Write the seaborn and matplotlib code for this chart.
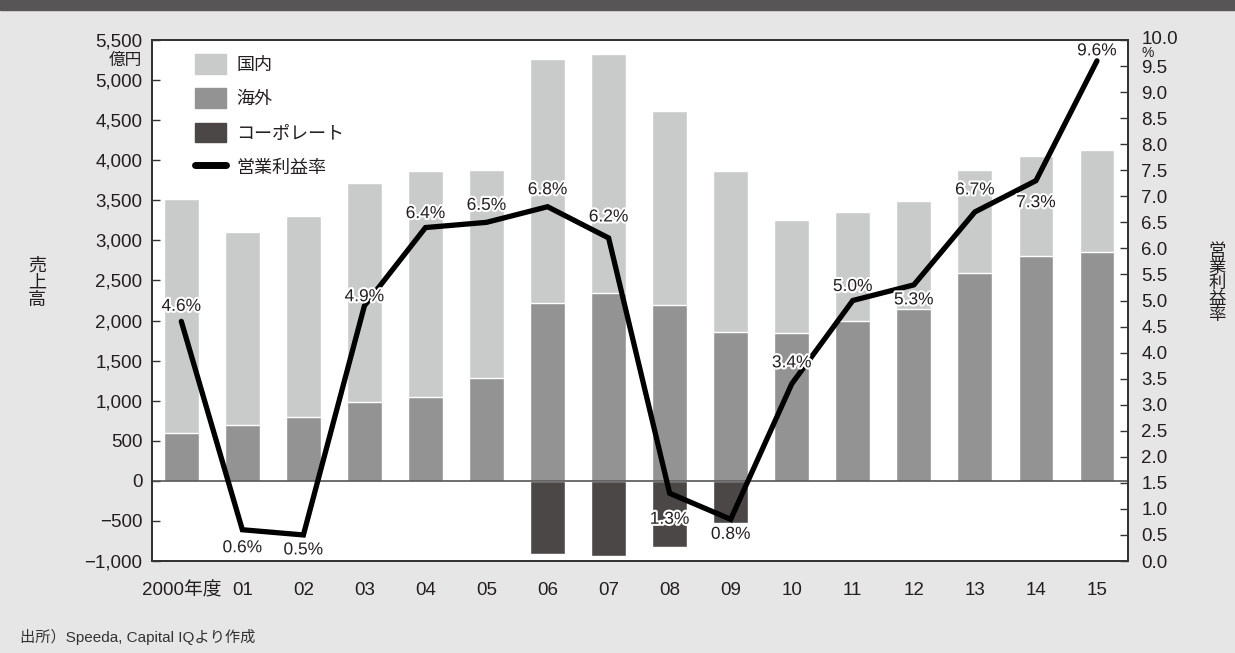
import numpy as np
import matplotlib
matplotlib.use("Agg")
import matplotlib.pyplot as plt
import matplotlib.patheffects as pe
from matplotlib.patches import Patch, Rectangle
from matplotlib.lines import Line2D
from matplotlib.ticker import FuncFormatter, FixedLocator
from matplotlib.transforms import ScaledTranslation
import seaborn as sns

# data
years = ["2000年度", "01", "02", "03", "04", "05", "06", "07",
         "08", "09", "10", "11", "12", "13", "14", "15"]
domestic = [2920, 2400, 2500, 2740, 2830, 2600, 3040, 2980,
            2410, 2000, 1420, 1360, 1350, 1290, 1250, 1270]
overseas = [600, 700, 800, 980, 1040, 1280, 2220, 2340,
            2200, 1860, 1840, 1990, 2140, 2590, 2800, 2860]
corporate = [0, 0, 0, 0, 0, 0, -910, -940,
             -830, -530, 0, 0, 0, 0, 0, 0]
margin = [4.6, 0.6, 0.5, 4.9, 6.4, 6.5, 6.8, 6.2,
          1.3, 0.8, 3.4, 5.0, 5.3, 6.7, 7.3, 9.6]

# label offsets (pixels) for the margin labels
label_dy = [15, -18, -15, 9, 14, 17, 17, 21, -26, -15, 21, 14, -15, 22, -22, 10]

C_DOM = "#c9caca"
C_OVS = "#939393"
C_CORP = "#4b4747"
TXT = "#231f20"

sns.set_theme(style="white")
plt.rcParams["font.family"] = ["Liberation Sans", "Noto Sans CJK JP"]
plt.rcParams["axes.unicode_minus"] = True

fig = plt.figure(figsize=(12.35, 6.53), dpi=100)
fig.patch.set_facecolor("#e6e6e6")
fig.patches.append(Rectangle((0, 1 - 10 / 653), 1, 10 / 653, transform=fig.transFigure,
                             color="#575555", zorder=0))

ax = fig.add_axes([152 / 1235, 92 / 653, 975.5 / 1235, 521 / 653])
ax.set_facecolor("white")

total = [d + o for d, o in zip(domestic, overseas)]
sns.barplot(x=years, y=total, color=C_DOM, saturation=1, width=0.57, errorbar=None, ax=ax)
sns.barplot(x=years, y=overseas, color=C_OVS, saturation=1, width=0.57, errorbar=None, ax=ax)
sns.barplot(x=years, y=corporate, color=C_CORP, saturation=1, width=0.57, errorbar=None, ax=ax)
ax.axhline(0, color="#555555", lw=1.2, zorder=3)

ax.set_xlim(-0.48, 15.5)
ax.set_ylim(-1000, 5500)
ax.set_yticks(np.arange(-1000, 5501, 500))
ax.yaxis.set_major_formatter(FuncFormatter(lambda v, p: f"{v:,.0f}".replace("-", "\u2212")))
ax.set_xlabel("")
ax.set_ylabel("")
ax.xaxis.set_minor_locator(FixedLocator(np.arange(0.5, 15, 1)))
ax.tick_params(axis="x", which="major", length=0, pad=15, labelsize=13.5, labelcolor=TXT)
ax.tick_params(axis="x", which="minor", direction="in", length=6, width=1, color="#333333")
ax.tick_params(axis="y", direction="in", length=6, width=1, color="#333333", pad=7,
               labelsize=13.5, labelcolor=TXT, left=True)

ax2 = ax.twinx()
sns.lineplot(x=np.arange(len(margin)), y=margin, color="black", lw=3.8, ax=ax2,
             solid_capstyle="round", solid_joinstyle="miter")
ax2.set_ylim(0, 10)
ax2.set_xlim(-0.48, 15.5)
ax2.set_yticks(np.arange(0, 10.01, 0.5))
ax2.yaxis.set_major_formatter(FuncFormatter(lambda v, p: f"{v:.1f}"))
ax2.tick_params(axis="y", direction="in", length=6, width=1, color="#333333", pad=10,
                labelsize=13.5, labelcolor=TXT, right=True)
ax2.set_ylabel("")

# top right label sits a little higher to leave room for the "%" unit
top_lbl = ax2.yaxis.get_major_ticks()[-1].label2
top_lbl.set_transform(top_lbl.get_transform() + ScaledTranslation(0, 3 / 100, fig.dpi_scale_trans))

for a in (ax, ax2):
    for s in a.spines.values():
        s.set_visible(True)
        s.set_color("#333333")
        s.set_linewidth(1.3)

for i, (m, dy) in enumerate(zip(margin, label_dy)):
    ax2.annotate(f"{m:.1f}%", (i, m), xytext=(0, dy), textcoords="offset pixels",
                 ha="center", va="center", fontsize=12.5, color=TXT, zorder=5,
                 path_effects=[pe.withStroke(linewidth=3, foreground="white")])

handles = [Patch(color=C_DOM), Patch(color=C_OVS), Patch(color=C_CORP),
           Line2D([], [], color="black", lw=5)]
ax2.legend(handles, ["国内", "海外", "コーポレート", "営業利益率"], loc="upper left",
           bbox_to_anchor=(0.044, 0.973), frameon=False, fontsize=13,
           handlelength=1.7, handleheight=1.3, labelspacing=0.8, handletextpad=0.6,
           borderpad=0, borderaxespad=0, labelcolor=TXT)

# unit labels and axis titles
fig.text(142 / 1235, 1 - 60 / 653, "億円", ha="right", va="center", fontsize=12, color=TXT)
fig.text(1141 / 1235, 1 - 53 / 653, "%", ha="left", va="center", fontsize=10, color=TXT)
fig.text(37 / 1235, 1 - 283 / 653, "\n".join("売上高"), ha="center", va="center",
         fontsize=13, color=TXT, linespacing=0.95, family="Noto Sans CJK JP")
fig.text(1217 / 1235, 1 - 283 / 653, "\n".join("営業利益率"), ha="center", va="center",
         fontsize=12.5, color=TXT, linespacing=0.85, family="Noto Sans CJK JP")
fig.text(20 / 1235, 1 - 637 / 653, "出所）Speeda, Capital IQより作成", ha="left", va="center",
         fontsize=11, color="#333333")

fig.savefig("out.png", dpi=100, facecolor=fig.get_facecolor())
